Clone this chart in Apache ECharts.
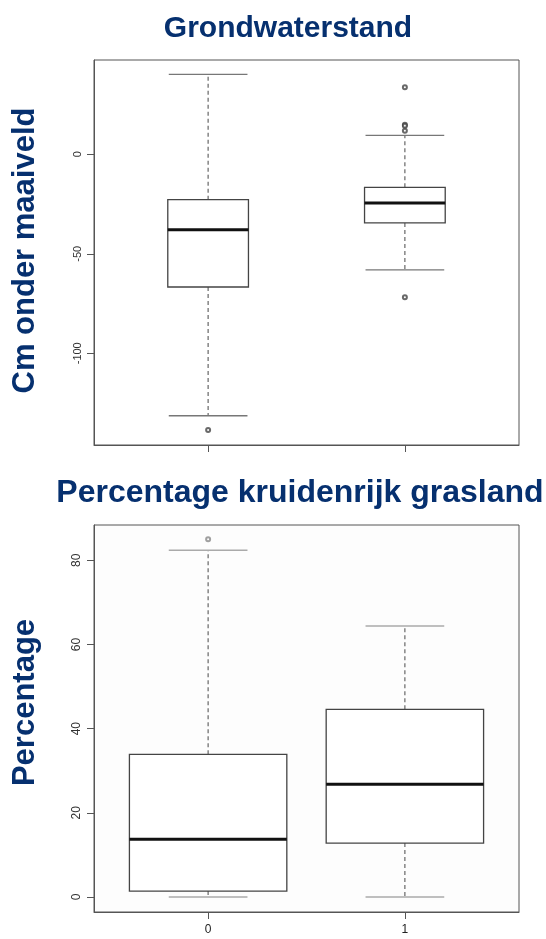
<!DOCTYPE html>
<html>
<head>
<meta charset="utf-8">
<script src="https://cdn.jsdelivr.net/npm/echarts@6/dist/echarts.min.js"></script>
<style>
html,body{margin:0;padding:0;background:#fff;}
#c{width:546px;height:939px;}
</style>
</head>
<body>
<div id="c"></div>
<script>
// ---- data ----
const groupLabels = ['0', '1'];
// Grondwaterstand: [low whisker, Q1, median, Q3, high whisker]
const gwBox0 = [-131.4, -66.7, -37.9, -22.8, 40.2];
const gwBox1 = [-58.1, -34.5, -24.5, -16.6, 9.5];
const gwOut0 = [-138.5];
const gwOut1 = [33.7, 14.8, 14.3, 11.9, -71.9];
const gwTicks = [-100, -50, 0];
// Percentage kruidenrijk grasland
const pkBox0 = [0, 1.4, 13.7, 33.9, 82.4];
const pkBox1 = [0, 12.8, 26.8, 44.6, 64.4];
const pkOut0 = [85.0];
const pkOut1 = [];
const pkTicks = [0, 20, 40, 60, 80];

const title1 = 'Grondwaterstand';
const title2 = 'Percentage kruidenrijk grasland';
const yName1 = 'Cm onder maaiveld';
const yName2 = 'Percentage';

// ---- build ----
const FONT = "'Liberation Sans', Arial, sans-serif";
const NAVY = '#06306f';

function boxRows(boxes) {
  return boxes.map((b, i) => [i + 1].concat(b));
}
function outRows(outs) {
  const rows = [];
  outs.forEach((arr, i) => arr.forEach(v => rows.push([i + 1, v])));
  return rows;
}
function makeRender(boxW, capW, capColor) {
  return function (params, api) {
    const x = api.value(0);
    const lo = api.coord([x, api.value(1)]);
    const q1 = api.coord([x, api.value(2)]);
    const md = api.coord([x, api.value(3)]);
    const q3 = api.coord([x, api.value(4)]);
    const hi = api.coord([x, api.value(5)]);
    const bw = api.size([boxW, 0])[0];
    const cw = api.size([capW, 0])[0];
    const cx = md[0];
    const dash = {stroke: '#666', lineWidth: 1.2, lineDash: [4, 3]};
    const cap = {stroke: capColor, lineWidth: 1.3};
    return {
      type: 'group',
      children: [
        {type: 'line', shape: {x1: cx, y1: q3[1], x2: cx, y2: hi[1]}, style: dash},
        {type: 'line', shape: {x1: cx, y1: q1[1], x2: cx, y2: lo[1]}, style: dash},
        {type: 'line', shape: {x1: cx - cw / 2, y1: hi[1], x2: cx + cw / 2, y2: hi[1]}, style: cap},
        {type: 'line', shape: {x1: cx - cw / 2, y1: lo[1], x2: cx + cw / 2, y2: lo[1]}, style: cap},
        {type: 'rect', shape: {x: cx - bw / 2, y: q3[1], width: bw, height: q1[1] - q3[1]},
          style: {fill: '#fff', stroke: '#444', lineWidth: 1.3}},
        {type: 'line', shape: {x1: cx - bw / 2, y1: md[1], x2: cx + bw / 2, y2: md[1]},
          style: {stroke: '#111', lineWidth: 3}}
      ]
    };
  };
}

function xAxisCfg(gridIndex, showLabels) {
  return {
    type: 'value', gridIndex: gridIndex, min: 0.42, max: 2.58,
    splitLine: {show: false},
    axisLine: {show: true, onZero: false, lineStyle: {color: '#555', width: 1}},
    axisTick: {show: true, customValues: [1, 2], length: 7, lineStyle: {color: '#555'}},
    axisLabel: {show: showLabels, customValues: [1, 2], margin: 12,
      formatter: v => groupLabels[Math.round(v) - 1],
      fontFamily: FONT, fontSize: 12, color: '#222'}
  };
}
function yAxisCfg(gridIndex, min, max, ticks, name, nameGap, namePad, labelSize) {
  return {
    type: 'value', gridIndex: gridIndex, min: min, max: max,
    name: name, nameLocation: 'middle', nameRotate: 90, nameGap: nameGap,
    nameTextStyle: {fontFamily: FONT, fontSize: 31, fontWeight: 'bold', color: NAVY, padding: namePad},
    splitLine: {show: false},
    axisLine: {show: true, lineStyle: {color: '#555', width: 1}},
    axisTick: {show: true, customValues: ticks, length: 7, lineStyle: {color: '#555'}},
    axisLabel: {customValues: ticks, rotate: 90, margin: 11,
      fontFamily: FONT, fontSize: labelSize, color: '#333'}
  };
}

const option = {
  backgroundColor: '#fff',
  animation: false,
  title: [
    {text: title1, left: 283, top: 9, textAlign: 'center',
      textStyle: {fontFamily: FONT, fontSize: 30, fontWeight: 'bold', color: NAVY}},
    {text: title2, left: 295, top: 472, textAlign: 'center',
      textStyle: {fontFamily: FONT, fontSize: 32, fontWeight: 'bold', color: NAVY}}
  ],
  grid: [
    {left: 94, right: 27, top: 60, height: 385, show: true, borderColor: '#555', borderWidth: 1, backgroundColor: '#fff'},
    {left: 94, right: 27, top: 525, height: 387, show: true, borderColor: '#555', borderWidth: 1, backgroundColor: '#fdfdfd'}
  ],
  xAxis: [xAxisCfg(0, false), xAxisCfg(1, true)],
  yAxis: [
    yAxisCfg(0, -146.1, 47.4, gwTicks, yName1, 53, [0, 0, 0, 4], 11),
    yAxisCfg(1, -3.57, 88.4, pkTicks, yName2, 53, [0, 0, 0, 32], 12)
  ],
  series: [
    {type: 'custom', xAxisIndex: 0, yAxisIndex: 0, data: boxRows([gwBox0, gwBox1]),
      encode: {x: 0, y: [1, 2, 3, 4, 5]}, renderItem: makeRender(0.41, 0.4, '#777')},
    {type: 'scatter', xAxisIndex: 0, yAxisIndex: 0, data: outRows([gwOut0, gwOut1]),
      symbol: 'emptyCircle', symbolSize: 4, itemStyle: {color: '#444', borderWidth: 0.8}},
    {type: 'custom', xAxisIndex: 1, yAxisIndex: 1, data: boxRows([pkBox0, pkBox1]),
      encode: {x: 0, y: [1, 2, 3, 4, 5]}, renderItem: makeRender(0.8, 0.4, '#aaa')},
    {type: 'scatter', xAxisIndex: 1, yAxisIndex: 1, data: outRows([pkOut0, pkOut1]),
      symbol: 'emptyCircle', symbolSize: 4, itemStyle: {color: '#888', borderWidth: 0.8}}
  ]
};
const chart = echarts.init(document.getElementById('c'), null, {renderer: 'canvas'});
chart.setOption(option);
</script>
</body>
</html>
